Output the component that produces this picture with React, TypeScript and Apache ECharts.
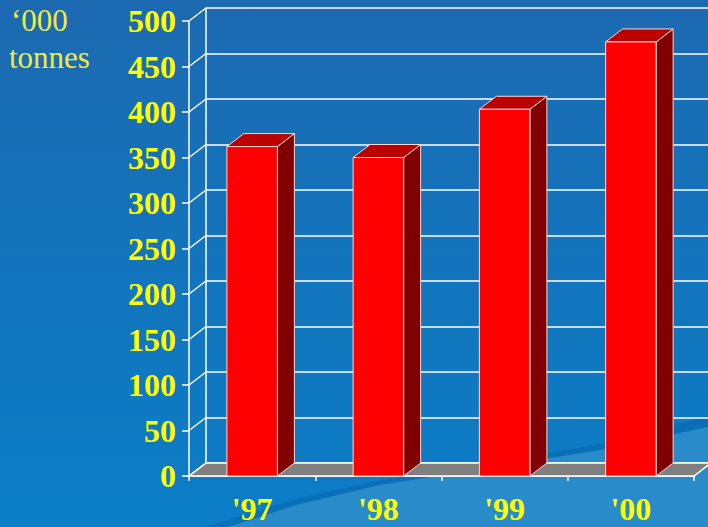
import React, { useEffect, useRef } from "react";
import * as echarts from "echarts";

const categories = ["'97", "'98", "'99", "'00"];
const values = [362, 350, 403, 477];
const yTicks = [0, 50, 100, 150, 200, 250, 300, 350, 400, 450, 500];
const unitLines = ["\u2018000", "tonnes"];

const DX = 17;
const DY = 13;

export default function App() {
  const ref = useRef<HTMLDivElement>(null);
  useEffect(() => {
    if (!ref.current) return;
    const chart = echarts.init(ref.current, null, { renderer: "svg" });
    const labelFont = {
      color: "#ffff00",
      fontFamily: "Liberation Serif",
      fontWeight: "bold",
      fontSize: 32,
    };
    const option: any = {
      animation: false,
      backgroundColor: {
        type: "linear",
        x: 0, y: 0, x2: 0, y2: 1,
        colorStops: [
          { offset: 0, color: "#1c6ab1" },
          { offset: 1, color: "#0a7ec7" },
        ],
      },
      graphic: [
        {
          type: "polygon",
          z: -10,
          silent: true,
          shape: {
            points: [[205, 527], [300, 498], [380, 480], [500, 461], [600, 444], [708, 416], [708, 427], [600, 450], [500, 466], [380, 485], [300, 504], [228, 527]],
          },
          style: { fill: "rgba(6,90,160,0.35)" },
        },
        {
          type: "polygon",
          z: -10,
          silent: true,
          shape: {
            points: [[228, 527], [300, 504], [380, 485], [500, 466], [600, 450], [708, 427], [708, 527]],
          },
          style: { fill: "#2a8bca" },
        },
        {
          type: "text",
          left: 11,
          top: 5,
          style: { text: unitLines[0], fill: "#f2ea3c", font: "31px 'Liberation Serif'" },
        },
        {
          type: "text",
          left: 9,
          top: 42,
          style: { text: unitLines[1], fill: "#f2ea3c", font: "31px 'Liberation Serif'" },
        },
      ],
      grid: [
        { left: 189, top: 21, width: 505, height: 455 },
        { left: 189 + DX, top: 21 - DY, width: 502, height: 455 },
      ],
      xAxis: [
        {
          gridIndex: 0,
          type: "category",
          data: categories,
          axisLine: { lineStyle: { color: "#ffffff", width: 1.5 } },
          axisTick: { show: true, length: 5, lineStyle: { color: "#ffffff", width: 1.5 } },
          axisLabel: { ...labelFont, margin: 17 },
          splitLine: { show: false },
        },
        {
          gridIndex: 1,
          type: "category",
          data: categories,
          show: false,
        },
      ],
      yAxis: [
        {
          gridIndex: 0,
          type: "value",
          min: 0,
          max: 500,
          interval: 50,
          axisLine: { show: true, lineStyle: { color: "#ffffff", width: 1.5 } },
          axisTick: { show: true, length: 7, lineStyle: { color: "#ffffff", width: 1.5 } },
          axisLabel: { ...labelFont, margin: 13 },
          splitLine: { show: false },
        },
        {
          gridIndex: 1,
          type: "value",
          min: 0,
          max: 500,
          interval: 50,
          axisLine: { show: true, lineStyle: { color: "#ffffff", width: 1.5 } },
          axisTick: { show: false },
          axisLabel: { show: false },
          splitLine: { show: true, lineStyle: { color: "#ffffff", width: 1.5 } },
        },
      ],
      series: [
        {
          type: "custom",
          xAxisIndex: 0,
          yAxisIndex: 0,
          data: [[0, 0]],
          silent: true,
          renderItem: (params: any, api: any) => {
            const cs = params.coordSys;
            const x0 = cs.x;
            const x1 = cs.x + cs.width;
            const y0 = api.coord([0, 0])[1];
            const children: any[] = [
              {
                type: "polygon",
                shape: { points: [[x0, y0], [x1, y0], [x1 + DX, y0 - DY], [x0 + DX, y0 - DY]] },
                style: { fill: "#808080", stroke: "#ffffff", lineWidth: 1.5 },
              },
            ];
            yTicks.forEach((t) => {
              const y = api.coord([0, t])[1];
              children.push({
                type: "line",
                shape: { x1: x0, y1: y, x2: x0 + DX, y2: y - DY },
                style: { stroke: "#ffffff", lineWidth: 1.5 },
              });
            });
            return { type: "group", children };
          },
        },
        {
          type: "custom",
          xAxisIndex: 0,
          yAxisIndex: 0,
          data: values.map((v, i) => [i, v]),
          silent: true,
          renderItem: (params: any, api: any) => {
            const top = api.coord([api.value(0), api.value(1)]);
            const base = api.coord([api.value(0), 0]);
            const w = api.size([1, 0])[0] * 0.4;
            const xl = top[0] - w / 2;
            const xr = top[0] + w / 2;
            const yt = top[1];
            const yb = base[1];
            const edge = { stroke: "#ffd6d6", lineWidth: 1 };
            return {
              type: "group",
              children: [
                {
                  type: "polygon",
                  shape: { points: [[xr, yt], [xr + DX, yt - DY], [xr + DX, yb - DY], [xr, yb]] },
                  style: { fill: "#800000", ...edge },
                },
                {
                  type: "polygon",
                  shape: { points: [[xl, yt], [xl + DX, yt - DY], [xr + DX, yt - DY], [xr, yt]] },
                  style: { fill: "#bb0000", ...edge },
                },
                {
                  type: "rect",
                  shape: { x: xl, y: yt, width: w, height: yb - yt },
                  style: { fill: "#ff0000", ...edge },
                },
              ],
            };
          },
        },
      ],
    };
    chart.setOption(option);
    return () => chart.dispose();
  }, []);
  return (
    <div
      ref={ref}
      style={{ position: "fixed", left: 0, top: 0, width: 708, height: 527 }}
    />
  );
}
